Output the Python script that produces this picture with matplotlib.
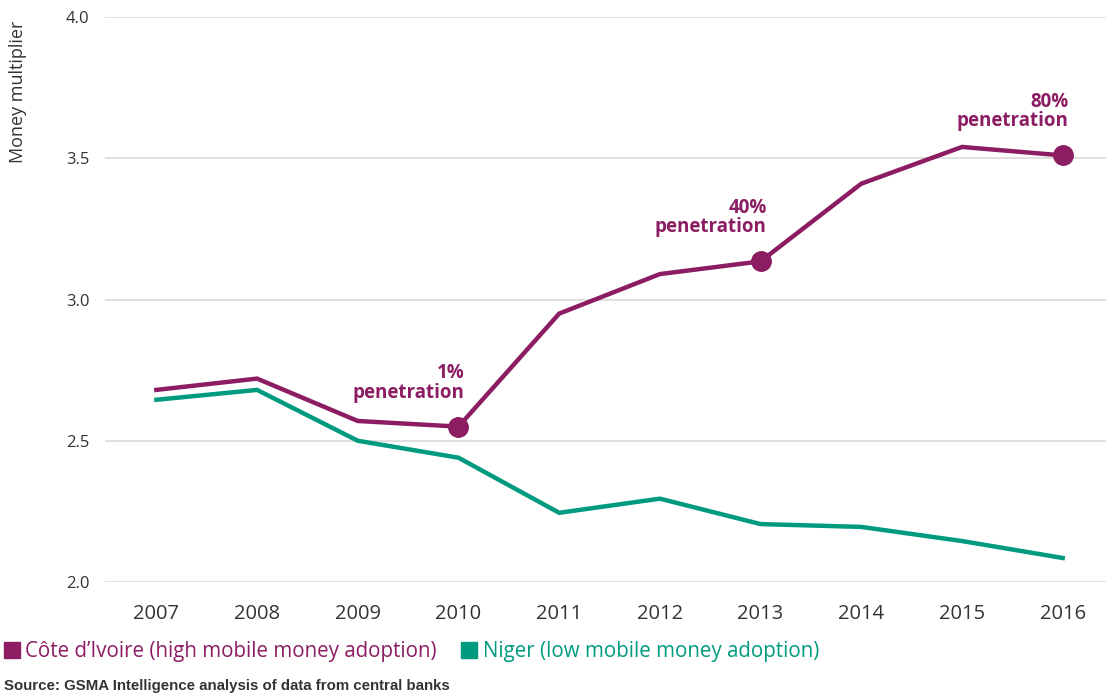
import numpy as np
from matplotlib import pyplot as plt
from matplotlib.lines import Line2D

years = [2007, 2008, 2009, 2010, 2011, 2012, 2013, 2014, 2015, 2016]
cote = [2.68, 2.72, 2.57, 2.55, 2.95, 3.09, 3.135, 3.41, 3.54, 3.51]
niger = [2.645, 2.68, 2.50, 2.44, 2.245, 2.295, 2.205, 2.195, 2.145, 2.085]

# highlighted points on the Côte d'Ivoire line
marked_years = [2010, 2013, 2016]
marked_labels = ['1%\npenetration', '40%\npenetration', '80%\npenetration']

purple = '#8c1d62'
teal = '#009b7f'
grey_text = '#333333'

plt.rcParams['font.family'] = ['Open Sans', 'DejaVu Sans']

fig = plt.figure(figsize=(11.06, 6.98), dpi=100)
ax = fig.add_axes([105 / 1106, 116 / 698, 1 - 105 / 1106, (582 - 17) / 698])

ax.plot(years, cote, color=purple, lw=3.2, solid_joinstyle='miter', zorder=3)
ax.plot(years, niger, color=teal, lw=3.2, solid_joinstyle='miter', zorder=3)

cote_lookup = dict(zip(years, cote))
for yr, lab in zip(marked_years, marked_labels):
    val = cote_lookup[yr]
    ax.plot(yr, val, 'o', color=purple, ms=14, zorder=4)
    ax.annotate(lab, (yr, val), xytext=(6, 24), textcoords='offset pixels',
                ha='right', va='bottom', multialignment='right',
                color=purple, fontsize=13.5, fontweight='bold', linespacing=0.95)

ax.set_xlim(2006.49, 2016.43)
ax.set_ylim(2.0, 4.0)
ax.set_yticks([2.0, 2.5, 3.0, 3.5, 4.0])
ax.set_yticklabels(['2.0', '2.5', '3.0', '3.5', '4.0'])
ax.set_xticks(years)
ax.yaxis.grid(True, color='#dddddd', lw=1.3)
ax.set_axisbelow(True)
for s in ax.spines.values():
    s.set_visible(False)
ax.tick_params(axis='y', length=0, pad=11, labelsize=12, labelcolor=grey_text)
ax.tick_params(axis='x', length=0, pad=16, labelsize=14.5, labelcolor=grey_text)

fig.text(18 / 1106, 1 - 92 / 698, 'Money multiplier', rotation=90,
         ha='center', va='center', fontsize=13, color=grey_text)

handles = [Line2D([], [], marker='s', ls='none', color=purple, ms=12),
           Line2D([], [], marker='s', ls='none', color=teal, ms=12)]
fig.legend(handles, ['Côte d’Ivoire (high mobile money adoption)',
                     'Niger (low mobile money adoption)'],
           loc='center left', bbox_to_anchor=(-0.004, 1 - 652 / 698),
           ncol=2, frameon=False, fontsize=14.8, handlelength=0.75,
           handletextpad=0.3, columnspacing=1.2,
           labelcolor='markerfacecolor', borderaxespad=0)

fig.text(4 / 1106, 1 - 686 / 698, 'Source: GSMA Intelligence analysis of data from central banks',
         ha='left', va='center', fontsize=10.8, fontweight='bold', color=grey_text,
         family=['Liberation Sans', 'DejaVu Sans'])

fig.savefig('out.png', dpi=100)
